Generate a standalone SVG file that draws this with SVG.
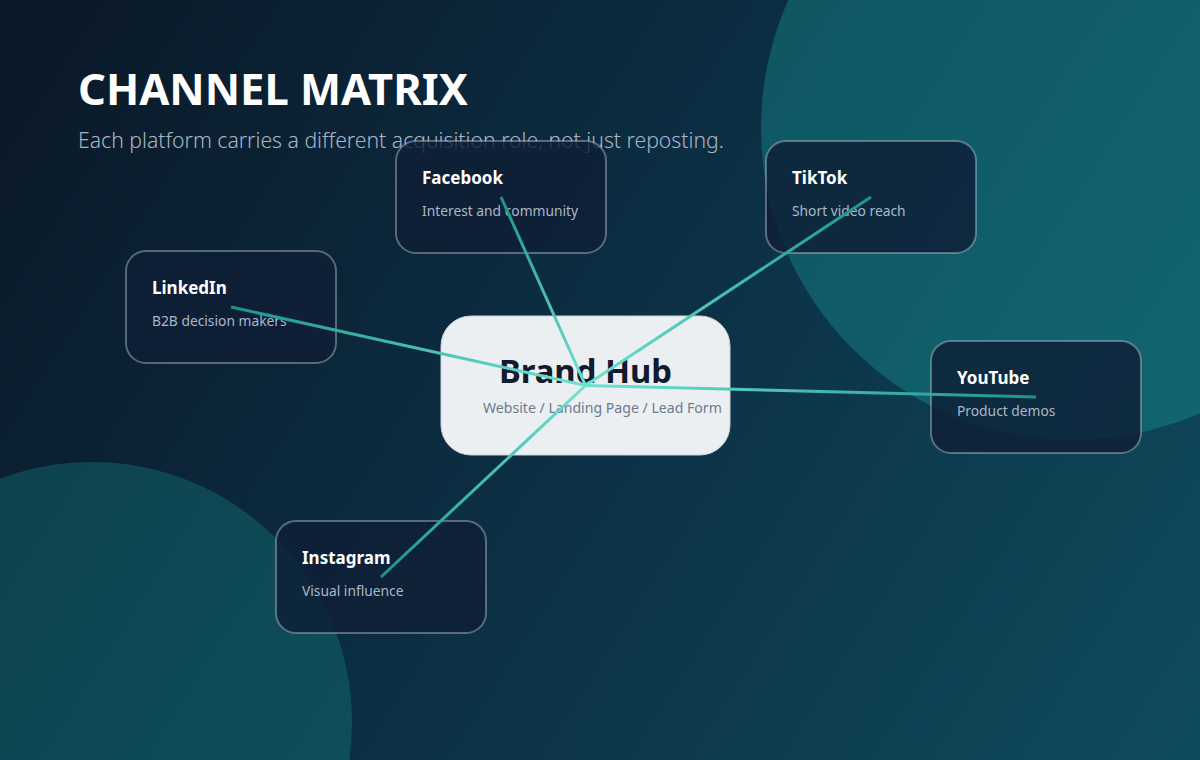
<svg xmlns="http://www.w3.org/2000/svg" width="1200" height="760" viewBox="0 0 1200 760">
  <defs>
    <linearGradient id="bg" x1="0" y1="0" x2="1200" y2="760" gradientUnits="userSpaceOnUse">
      <stop offset="0" stop-color="#0a1726"/>
      <stop offset="0.5" stop-color="#0c2f44"/>
      <stop offset="1" stop-color="#0f4b5d"/>
    </linearGradient>
    <linearGradient id="lgFb" x1="585.5" y1="385.5" x2="501" y2="197" gradientUnits="userSpaceOnUse"><stop offset="0" stop-color="#6fe3d3"/><stop offset="1" stop-color="#1b958b"/></linearGradient>
    <linearGradient id="lgTt" x1="585.5" y1="385.5" x2="871" y2="197" gradientUnits="userSpaceOnUse"><stop offset="0" stop-color="#6fe3d3"/><stop offset="1" stop-color="#1b958b"/></linearGradient>
    <linearGradient id="lgLi" x1="585.5" y1="385.5" x2="231" y2="307" gradientUnits="userSpaceOnUse"><stop offset="0" stop-color="#6fe3d3"/><stop offset="1" stop-color="#1b958b"/></linearGradient>
    <linearGradient id="lgYt" x1="585.5" y1="385.5" x2="1036" y2="397" gradientUnits="userSpaceOnUse"><stop offset="0" stop-color="#6fe3d3"/><stop offset="1" stop-color="#1b958b"/></linearGradient>
    <linearGradient id="lgIg" x1="585.5" y1="385.5" x2="381" y2="577" gradientUnits="userSpaceOnUse"><stop offset="0" stop-color="#6fe3d3"/><stop offset="1" stop-color="#1b958b"/></linearGradient>
  </defs>
  <style>
    .blob { fill: #17a2a0; }
    .title { font-family: "Noto Sans", "Open Sans", sans-serif; font-weight: 700; font-size: 43.5px; fill: #ffffff; }
    .subtitle { font-family: "Noto Sans", "Open Sans", sans-serif; font-weight: 300; font-size: 21.2px; fill: #a7b6c6; }
    .card { fill: #0f1f36; fill-opacity: 0.82; stroke: #c8d4e2; stroke-opacity: 0.4; stroke-width: 2; }
    .card-title { font-family: "Noto Sans", "Open Sans", sans-serif; font-weight: 700; font-size: 17px; fill: #ffffff; }
    .card-desc { font-family: "Noto Sans", "Open Sans", sans-serif; font-size: 13.8px; fill: #a9b8c8; }
    .hub { fill: #ebeff1; stroke: #c8d2dc; stroke-width: 1; }
    .hub-title { font-family: "Noto Sans", "Open Sans", sans-serif; font-weight: 700; font-size: 32.8px; fill: #111a2e; }
    .hub-desc { font-family: "Noto Sans", "Open Sans", sans-serif; font-size: 14.1px; fill: #6b7a90; }
    .link { stroke-width: 3; fill: none; stroke-linecap: butt; }
  </style>

  <rect width="1200" height="760" fill="url(#bg)"/>
  <circle class="blob" cx="1073" cy="128" r="312" fill-opacity="0.35"/>
  <circle class="blob" cx="92" cy="722" r="260" fill-opacity="0.27"/>

  <text class="title" x="78" y="105">CHANNEL MATRIX</text>
  <text class="subtitle" x="78" y="148">Each platform carries a different acquisition role, not just reposting.</text>

  <g id="hub">
    <rect class="hub" x="441" y="316" width="289" height="139" rx="30"/>
    <text class="hub-title" x="585.5" y="383" text-anchor="middle">Brand Hub</text>
    <text class="hub-desc" x="483" y="413">Website / Landing Page / Lead Form</text>
  </g>

  <g id="node-facebook">
    <rect class="card" x="396" y="141" width="210" height="112" rx="20"/>
    <text class="card-title" x="422" y="184">Facebook</text>
    <text class="card-desc" x="422" y="216">Interest and community</text>
  </g>
  <g id="node-tiktok">
    <rect class="card" x="766" y="141" width="210" height="112" rx="20"/>
    <text class="card-title" x="792" y="184">TikTok</text>
    <text class="card-desc" x="792" y="216">Short video reach</text>
  </g>
  <g id="node-linkedin">
    <rect class="card" x="126" y="251" width="210" height="112" rx="20"/>
    <text class="card-title" x="152" y="294">LinkedIn</text>
    <text class="card-desc" x="152" y="326">B2B decision makers</text>
  </g>
  <g id="node-youtube">
    <rect class="card" x="931" y="341" width="210" height="112" rx="20"/>
    <text class="card-title" x="957" y="384">YouTube</text>
    <text class="card-desc" x="957" y="416">Product demos</text>
  </g>
  <g id="node-instagram">
    <rect class="card" x="276" y="521" width="210" height="112" rx="20"/>
    <text class="card-title" x="302" y="564">Instagram</text>
    <text class="card-desc" x="302" y="596">Visual influence</text>
  </g>

  <g id="connectors">
    <line class="link" x1="585.5" y1="385.5" x2="501" y2="197" stroke="url(#lgFb)"/>
    <line class="link" x1="585.5" y1="385.5" x2="871" y2="197" stroke="url(#lgTt)"/>
    <line class="link" x1="585.5" y1="385.5" x2="231" y2="307" stroke="url(#lgLi)"/>
    <line class="link" x1="585.5" y1="385.5" x2="1036" y2="397" stroke="url(#lgYt)"/>
    <line class="link" x1="585.5" y1="385.5" x2="381" y2="577" stroke="url(#lgIg)"/>
  </g>
</svg>
